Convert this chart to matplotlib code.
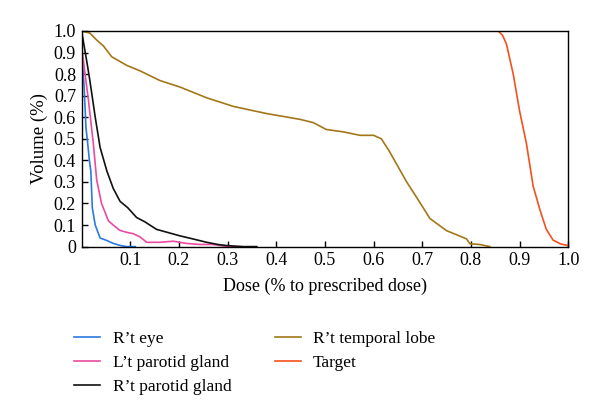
import matplotlib
matplotlib.use("Agg")
import matplotlib.pyplot as plt

plt.rcParams['font.family'] = ['Liberation Serif', 'DejaVu Serif']

# dose-volume curves
eye_dose = [0.0, 0.005, 0.009, 0.012, 0.016, 0.019, 0.022, 0.028, 0.038, 0.05, 0.065, 0.08, 0.093, 0.11]
eye_vol = [0.9, 0.75, 0.55, 0.49, 0.40, 0.35, 0.18, 0.1, 0.04, 0.03, 0.015, 0.005, 0.0, 0.0]

lpar_dose = [0.0, 0.006, 0.014, 0.019, 0.024, 0.031, 0.041, 0.055, 0.065, 0.079, 0.095, 0.106, 0.12, 0.134,
             0.16, 0.188, 0.215, 0.243, 0.27, 0.3, 0.33]
lpar_vol = [0.93, 0.82, 0.68, 0.58, 0.48, 0.31, 0.2, 0.12, 0.1, 0.075, 0.065, 0.06, 0.045, 0.02,
            0.02, 0.025, 0.015, 0.01, 0.01, 0.0, 0.0]

rpar_dose = [0.0, 0.006, 0.012, 0.017, 0.028, 0.038, 0.052, 0.065, 0.079, 0.095, 0.113, 0.13, 0.154,
             0.178, 0.202, 0.23, 0.257, 0.28, 0.298, 0.33, 0.36]
rpar_vol = [1.0, 0.92, 0.84, 0.77, 0.6, 0.46, 0.35, 0.27, 0.21, 0.18, 0.135, 0.115, 0.08,
            0.065, 0.05, 0.035, 0.02, 0.01, 0.005, 0.0, 0.0]

tl_dose = [0.0, 0.017, 0.03, 0.045, 0.062, 0.093, 0.12, 0.161, 0.202, 0.257, 0.312, 0.38, 0.408,
           0.449, 0.476, 0.503, 0.538, 0.572, 0.6, 0.616, 0.633, 0.668, 0.688, 0.716, 0.75, 0.791,
           0.798, 0.818, 0.839]
tl_vol = [1.0, 0.99, 0.96, 0.93, 0.88, 0.84, 0.815, 0.77, 0.74, 0.69, 0.65, 0.617, 0.606,
          0.59, 0.575, 0.543, 0.532, 0.516, 0.516, 0.5, 0.44, 0.3, 0.23, 0.13, 0.074, 0.036,
          0.013, 0.01, 0.0]

tg_dose = [0.0, 0.856, 0.865, 0.873, 0.887, 0.9, 0.914, 0.928, 0.942, 0.955, 0.969, 0.985, 1.0]
tg_vol = [1.0, 1.0, 0.98, 0.94, 0.80, 0.63, 0.48, 0.28, 0.17, 0.08, 0.03, 0.012, 0.005]

labels = ["R\u2019t eye", "L\u2019t parotid gland", "R\u2019t parotid gland",
          "R\u2019t temporal lobe", "Target"]
colors = ["#2a7ae2", "#ec4aa0", "#111111", "#a37718", "#f5501e"]

fig = plt.figure(figsize=(6, 4.18), dpi=100)
ax = fig.add_axes([0.136, 0.41, 0.811, 0.516])

series = [(eye_dose, eye_vol), (lpar_dose, lpar_vol), (rpar_dose, rpar_vol),
          (tl_dose, tl_vol), (tg_dose, tg_vol)]
for (d, v), lab, c in zip(series, labels, colors):
    ax.plot(d, v, color=c, lw=1.2, label=lab)

ax.set_xlim(0, 1.0)
ax.set_ylim(0, 1.0)
xt = [0.1, 0.2, 0.3, 0.4, 0.5, 0.6, 0.7, 0.8, 0.9, 1.0]
ax.set_xticks(xt)
ax.set_xticklabels([f"{t:.1f}" for t in xt])
yt = [0.0, 0.1, 0.2, 0.3, 0.4, 0.5, 0.6, 0.7, 0.8, 0.9, 1.0]
ax.set_yticks(yt)
ax.set_yticklabels(["0"] + [f"{t:.1f}" for t in yt[1:]])
ax.tick_params(direction='in', length=4, width=1, labelsize=13, pad=4)
for s in ax.spines.values():
    s.set_linewidth(1.0)

ax.set_xlabel("Dose (% to prescribed dose)", fontsize=13, labelpad=6)
ax.set_ylabel("Volume (%)", fontsize=13.5, labelpad=4)

h, l = ax.get_legend_handles_labels()
fig.legend(h, l, ncol=2, loc='upper left', bbox_to_anchor=(0.098, 0.245),
           frameon=False, fontsize=12.5, handlelength=1.5, handletextpad=0.7,
           columnspacing=2.5, labelspacing=0.45)

fig.savefig("out.png", dpi=100)
